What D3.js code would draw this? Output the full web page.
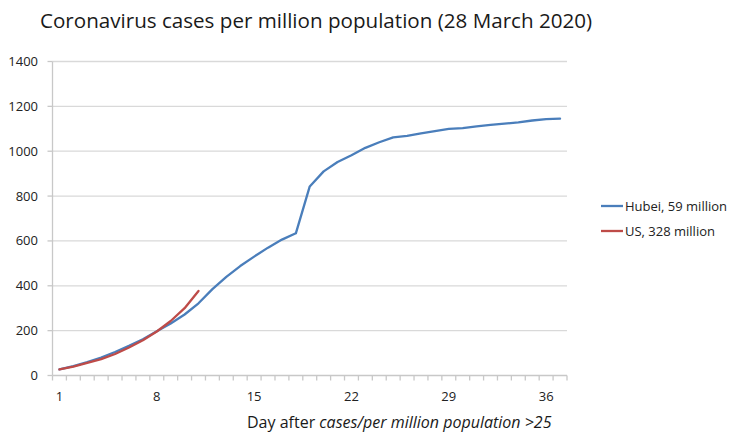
<!DOCTYPE html>
<html>
<head>
<meta charset="utf-8">
<script src="https://cdn.jsdelivr.net/npm/d3@7"></script>
<style>
  html, body { margin: 0; padding: 0; background: #fff; }
  svg { display: block; font-family: "Open Sans", "Noto Sans", sans-serif; }
</style>
</head>
<body>
<svg id="chart" width="729" height="434"></svg>
<script>
const days = d3.range(1, 38);
const xTickLabels = [1, 8, 15, 22, 29, 36];
const yTicks = [0, 200, 400, 600, 800, 1000, 1200, 1400];
const seriesNames = ["Hubei, 59 million", "US, 328 million"];
const seriesColors = ["#4a7ebb", "#be4b48"];
const hubei = [27, 42, 60, 80, 105, 132, 162, 197, 232, 272, 322, 385, 440, 488, 530, 570, 606, 634,
  843, 910, 952, 982, 1015, 1040, 1062, 1068, 1080, 1090, 1100, 1103, 1111, 1117, 1123, 1129, 1137, 1143, 1145];
const us = [27, 40, 56, 73, 96, 125, 157, 196, 243, 300, 377];

(function () {
const svg = d3.select("#chart");
const pL = 52.5, pR = 567, pT = 61.5, pB = 375.5;

const x = d3.scaleBand().domain(days).range([pL, pR]).padding(0);
const y = d3.scaleLinear().domain([0, 1400]).range([pB, pT]);
const cx = d => x(d) + x.bandwidth() / 2;

// gridlines
svg.append("g").selectAll("line").data(yTicks.filter(v => v > 0)).join("line")
  .attr("x1", pL).attr("x2", pR)
  .attr("y1", d => y(d)).attr("y2", d => y(d))
  .attr("stroke", "#d9d9d9").attr("stroke-width", 1.3);

// y axis
svg.append("line").attr("x1", pL).attr("x2", pL).attr("y1", pT).attr("y2", pB)
  .attr("stroke", "#c8c8c8").attr("stroke-width", 1.3);
svg.append("g").selectAll("line").data(yTicks).join("line")
  .attr("x1", pL - 5).attr("x2", pL).attr("y1", d => y(d)).attr("y2", d => y(d))
  .attr("stroke", "#c8c8c8").attr("stroke-width", 1.3);
svg.append("g").selectAll("text").data(yTicks).join("text")
  .attr("x", 38).attr("y", d => y(d)).attr("dy", "0.35em")
  .attr("text-anchor", "end").attr("font-size", 13).attr("fill", "#222")
  .text(d => d);

// x axis
svg.append("line").attr("x1", pL).attr("x2", pR).attr("y1", pB).attr("y2", pB)
  .attr("stroke", "#c8c8c8").attr("stroke-width", 1.3);
const bounds = days.map(d => x(d)).concat([pR]);
svg.append("g").selectAll("line").data(bounds).join("line")
  .attr("x1", d => d).attr("x2", d => d).attr("y1", pB).attr("y2", pB + 5)
  .attr("stroke", "#c8c8c8").attr("stroke-width", 1.3);
svg.append("g").selectAll("text").data(xTickLabels).join("text")
  .attr("x", d => cx(d)).attr("y", 401)
  .attr("text-anchor", "middle").attr("font-size", 13).attr("fill", "#222")
  .text(d => d);

// lines
const line = d3.line().x((d, i) => cx(days[i])).y(d => y(d));
[hubei, us].forEach((s, i) => {
  svg.append("path").datum(s).attr("d", line)
    .attr("fill", "none").attr("stroke", seriesColors[i]).attr("stroke-width", 2.3)
    .attr("stroke-linejoin", "round").attr("stroke-linecap", "round");
});

// legend
seriesNames.forEach((n, i) => {
  const ly = 206 + i * 25;
  svg.append("line").attr("x1", 601).attr("x2", 623).attr("y1", ly).attr("y2", ly)
    .attr("stroke", seriesColors[i]).attr("stroke-width", 2.3);
  svg.append("text").attr("x", 625).attr("y", ly).attr("dy", "0.35em")
    .attr("font-size", 13).attr("fill", "#222").text(n);
});

// title
svg.append("text").attr("x", 40).attr("y", 28).attr("font-size", 20.6).attr("fill", "#1a1a1a")
  .text("Coronavirus cases per million population (28 March 2020)");

// x axis title
const xt = svg.append("text").attr("x", 247).attr("y", 428).attr("font-size", 16).attr("fill", "#1a1a1a");
xt.append("tspan").text("Day after ");
xt.append("tspan").attr("font-style", "italic").text("cases/per million population >25");
})();
</script>
</body>
</html>
